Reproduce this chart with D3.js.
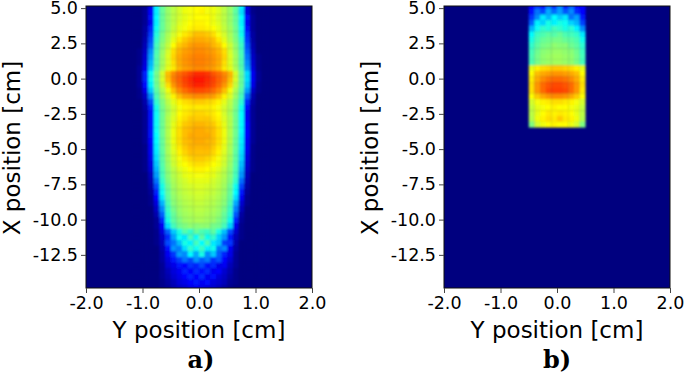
<!DOCTYPE html>
<html>
<head>
<meta charset="utf-8">
<script src="https://cdn.jsdelivr.net/npm/d3@7"></script>
<style>
html, body { margin: 0; background: #fff; }
text { font-family: "DejaVu Sans", sans-serif; fill: #000; }
</style>
</head>
<body>
<div id="chart"></div>
<script>
var yTicks = [-2, -1, 0, 1, 2];
var xTicks = [5, 2.5, 0, -2.5, -5, -7.5, -10, -12.5];

// bin centres in cm, shared by both panels where they overlap
var rowsA = [5.15, 4.75, 4.35, 3.95, 3.55, 3.15, 2.75, 2.35, 1.95, 1.55, 1.15, 0.75,
    0.35, -0.05, -0.45, -0.85, -1.25, -1.65, -2.05, -2.45, -2.85, -3.25, -3.65, -4.05,
    -4.45, -4.85, -5.25, -5.65, -6.05, -6.45, -6.85, -7.25, -7.65, -8.05, -8.45, -8.85,
    -9.25, -9.65, -10.05, -10.45, -10.85, -11.25, -11.65, -12.05, -12.45, -12.85, -13.25,
    -13.65, -14.05, -14.45, -14.85];
var colsA = [-1.15, -1.05, -0.95, -0.85, -0.75, -0.65, -0.55, -0.45, -0.35, -0.25, -0.15, -0.05,
    0.05, 0.15, 0.25, 0.35, 0.45, 0.55, 0.65, 0.75, 0.85, 0.95, 1.05, 1.15];

// as position on the colour scale (0-100)
var doseA = [
[0,0,1,9,34,47,53,57,60,62,64,65,65,64,63,60,57,53,47,34,9,1,0,0],
[0,0,2,11,34,47,53,57,60,63,64,65,66,64,63,61,57,53,46,32,8,1,0,0],
[0,0,2,12,35,47,53,57,60,62,64,65,65,65,63,60,57,53,47,35,12,2,0,0],
[0,0,2,10,34,47,53,57,61,63,65,66,66,65,63,61,57,53,47,34,10,2,0,0],
[0,0,3,14,37,47,53,58,62,64,66,67,67,66,65,62,58,54,48,36,12,2,0,0],
[0,0,3,16,39,49,55,60,64,67,69,71,71,70,68,64,60,55,49,37,15,3,0,0],
[0,0,4,18,41,50,56,62,67,70,72,73,73,72,71,67,62,56,50,40,16,3,0,0],
[0,0,5,20,43,52,58,65,70,72,74,75,75,74,72,70,65,59,52,42,18,4,0,0],
[0,1,6,24,44,53,60,68,72,74,75,76,76,75,74,72,68,60,53,43,20,5,0,0],
[0,1,7,26,45,54,61,69,73,75,76,77,77,76,75,73,69,61,54,44,22,6,1,0],
[0,1,8,28,45,54,61,68,73,75,76,77,77,76,75,73,68,61,54,44,24,7,1,0],
[0,2,9,30,46,55,62,67,72,74,75,76,76,75,74,72,67,62,55,45,26,8,1,0],
[0,2,14,36,49,60,71,76,79,81,83,85,85,84,81,79,76,72,60,47,32,10,2,0],
[0,2,14,36,49,60,71,77,80,83,85,87,87,85,83,80,77,71,60,47,32,10,2,0],
[0,2,12,34,48,58,68,75,79,82,84,86,86,84,82,79,75,69,58,47,30,9,1,0],
[0,1,9,30,46,55,63,71,76,79,81,82,82,81,79,76,71,64,55,45,26,6,1,0],
[0,1,6,24,44,53,60,66,71,74,75,76,76,75,74,71,66,61,53,43,20,4,0,0],
[0,0,4,18,41,50,57,62,66,68,69,70,70,69,68,66,62,57,50,40,15,3,0,0],
[0,0,3,14,38,49,55,60,64,66,67,67,67,67,66,64,60,56,49,37,12,2,0,0],
[0,0,2,12,36,48,55,60,65,67,68,69,69,68,67,65,60,55,48,35,10,2,0,0],
[0,0,2,12,36,48,56,61,66,68,70,70,70,70,68,66,61,56,48,35,10,2,0,0],
[0,0,2,12,36,48,56,62,67,70,71,72,72,71,70,67,62,56,48,35,11,2,0,0],
[0,0,2,12,36,48,56,63,68,71,72,73,73,72,71,68,63,56,48,35,11,2,0,0],
[0,0,2,12,35,48,56,63,68,71,73,73,73,73,71,68,63,56,48,34,11,2,0,0],
[0,0,2,11,35,47,56,63,68,71,72,73,73,72,71,68,63,56,47,34,10,2,0,0],
[0,0,1,10,34,47,55,62,67,70,72,72,72,72,70,67,62,55,47,33,10,1,0,0],
[0,0,1,10,33,46,55,61,66,69,71,71,71,71,69,66,61,55,46,32,9,1,0,0],
[0,0,1,9,32,46,54,60,64,67,69,70,70,69,67,64,60,54,46,31,8,1,0,0],
[0,0,1,8,30,45,53,59,63,65,67,68,68,67,65,63,59,53,45,29,7,1,0,0],
[0,0,1,7,28,44,52,57,61,63,65,66,66,65,63,61,57,52,44,27,6,1,0,0],
[0,0,0,5,26,43,51,56,59,62,63,64,64,63,62,59,56,51,43,25,5,0,0,0],
[0,0,0,4,22,41,50,55,58,60,62,62,62,62,60,58,55,50,41,21,4,0,0,0],
[0,0,0,3,18,38,48,54,57,59,60,61,61,60,59,57,54,48,37,17,3,0,0,0],
[0,0,0,2,14,36,47,53,56,58,59,60,60,59,58,56,53,47,35,13,2,0,0,0],
[0,0,0,1,11,33,46,52,55,57,58,59,59,58,57,55,52,46,32,10,1,0,0,0],
[0,0,0,1,8,28,44,51,54,56,57,58,58,57,56,54,51,44,27,7,1,0,0,0],
[0,0,0,0,6,24,42,49,53,55,56,57,57,56,55,53,49,42,23,5,0,0,0,0],
[0,0,0,0,4,20,40,47,52,54,55,56,56,55,54,52,47,40,19,3,0,0,0,0],
[0,0,0,0,2,15,38,46,50,53,54,55,55,54,53,50,46,37,14,2,0,0,0,0],
[0,0,0,0,2,10,32,43,48,50,52,51,52,52,49,48,43,31,9,1,0,0,0,0],
[0,0,0,0,1,8,20,30,38,45,41,47,44,42,46,38,29,18,7,1,0,0,0,0],
[0,0,0,0,1,6,15,26,36,33,44,36,46,37,41,31,25,13,5,1,0,0,0,0],
[0,0,0,0,1,5,18,22,29,38,34,43,35,44,33,30,17,16,4,0,0,0,0,0],
[0,0,0,0,0,4,12,25,23,32,41,36,42,34,37,22,24,10,3,0,0,0,0,0],
[0,0,0,0,0,3,10,16,26,24,35,27,38,24,30,20,14,9,2,0,0,0,0,0],
[0,0,0,0,0,3,8,13,17,22,18,25,20,23,16,19,11,7,2,0,0,0,0,0],
[0,0,0,0,0,2,7,9,13,11,16,14,18,12,15,9,10,5,2,0,0,0,0,0],
[0,0,0,0,0,2,5,8,10,14,11,15,12,15,10,11,7,4,1,0,0,0,0,0],
[0,0,0,0,0,2,4,7,9,11,14,11,15,10,12,8,6,3,1,0,0,0,0,0],
[0,0,0,0,0,1,3,5,8,9,11,13,10,12,8,7,5,2,1,0,0,0,0,0],
[0,0,0,0,0,1,2,4,6,7,9,10,9,8,7,5,3,1,0,0,0,0,0,0]
];

var rowsB = [5.15, 4.75, 4.35, 3.95, 3.55, 3.15, 2.75, 2.35, 1.95, 1.55, 1.15, 0.75,
    0.35, -0.05, -0.45, -0.85, -1.25, -1.65, -2.05, -2.45, -2.85, -3.25];
var colsB = [-0.45, -0.35, -0.25, -0.15, -0.05, 0.05, 0.15, 0.25, 0.35, 0.45];
var doseB = [
[11,16,12,22,15,24,13,20,12,11],
[12,22,18,27,21,26,19,24,15,11],
[16,24,33,28,35,30,33,22,26,13],
[20,34,31,38,34,38,36,31,28,17],
[28,36,41,39,43,41,38,40,34,24],
[35,42,44,46,45,47,44,43,41,33],
[38,44,47,48,49,49,47,46,44,37],
[41,46,49,50,52,51,51,48,46,40],
[43,48,51,52,53,53,52,51,48,42],
[44,49,52,53,54,54,53,52,49,43],
[44,49,52,53,54,54,53,52,49,43],
[62,66,68,69,70,70,69,68,66,62],
[65,71,73,74,75,75,74,73,71,65],
[67,73,76,78,79,79,78,76,73,67],
[68,75,79,81,82,82,81,79,75,68],
[68,75,79,82,83,83,82,79,75,67],
[65,70,73,75,76,76,75,73,70,65],
[60,64,66,67,68,68,67,66,64,60],
[58,62,64,65,66,65,65,64,62,58],
[57,62,65,67,66,67,66,65,62,57],
[56,63,66,68,67,70,67,66,63,56],
[50,60,63,65,66,65,65,63,60,50]
];

var jetStops = [0, 11, 35, 50, 65, 89, 100];
var jetColors = ['#00007f', '#0000ff', '#00ffff', '#7fff7f', '#ffff00', '#ff0000', '#7f0000'];

var width = 685,
    height = 377,
    plotTop = 6,
    plotBottom = 288,
    plotWidth = 226;

var color = d3.scaleLinear().domain(jetStops).range(jetColors);
var xPos = d3.scaleLinear().domain([5.15, -14.85]).range([plotTop, plotBottom]);

var svg = d3.select('#chart').append('svg')
    .attr('width', width)
    .attr('height', height)
    .style('display', 'block');

var blur = svg.append('defs').append('filter')
    .attr('id', 'soft')
    .attr('x', '-5%').attr('y', '-5%')
    .attr('width', '110%').attr('height', '110%');
blur.append('feGaussianBlur').attr('stdDeviation', 1.1);

function panel(name, left, rows, cols, dose, tag, tagX) {
    var yPos = d3.scaleLinear().domain([-2, 2]).range([left, left + plotWidth]);
    var rowH = Math.abs(xPos(0.4) - xPos(0));
    var colW = yPos(0.1) - yPos(0);

    svg.append('clipPath').attr('id', 'clip-' + name)
        .append('rect')
        .attr('x', left)
        .attr('y', plotTop)
        .attr('width', plotWidth)
        .attr('height', plotBottom - plotTop);

    var plot = svg.append('g').attr('clip-path', 'url(#clip-' + name + ')');
    plot.append('rect')
        .attr('x', left)
        .attr('y', plotTop)
        .attr('width', plotWidth)
        .attr('height', plotBottom - plotTop)
        .style('fill', color(0));

    var cells = [];
    dose.forEach(function(row, i) {
        row.forEach(function(v, j) {
            cells.push({ x: rows[i], y: cols[j], v: v });
        });
    });

    plot.append('g')
        .attr('filter', 'url(#soft)')
        .selectAll('rect').data(cells)
        .enter().append('rect')
            .attr('x', function(d) { return yPos(d.y) - colW / 2; })
            .attr('y', function(d) { return xPos(d.x) - rowH / 2; })
            .attr('width', colW + 0.3)
            .attr('height', rowH + 0.3)
            .style('fill', function(d) { return color(d.v); });

    svg.append('rect')
        .attr('x', left)
        .attr('y', plotTop)
        .attr('width', plotWidth)
        .attr('height', plotBottom - plotTop)
        .style('fill', 'none')
        .style('stroke', '#111')
        .style('stroke-width', 1);

    var bottomAxis = d3.axisBottom(yPos)
        .tickValues(yTicks)
        .tickFormat(function(d) { return d.toFixed(1); })
        .tickSize(5)
        .tickPadding(4);
    var leftAxis = d3.axisLeft(xPos)
        .tickValues(xTicks)
        .tickFormat(function(d) { return d.toFixed(1); })
        .tickSize(5)
        .tickPadding(3);

    var gx = svg.append('g').attr('transform', 'translate(0,' + plotBottom + ')').call(bottomAxis);
    var gy = svg.append('g').attr('transform', 'translate(' + left + ',0)').call(leftAxis);
    [gx, gy].forEach(function(g) {
        g.select('.domain').remove();
        g.selectAll('line').style('stroke', '#444');
        g.selectAll('text').style('font-family', '"DejaVu Sans", sans-serif').style('font-size', '17.5px');
    });

    svg.append('text')
        .attr('x', left + plotWidth / 2)
        .attr('y', 338)
        .attr('text-anchor', 'middle')
        .style('font-size', '23px')
        .text('Y position [cm]');

    svg.append('text')
        .attr('transform', 'translate(' + (left - 66) + ',148) rotate(-90)')
        .attr('text-anchor', 'middle')
        .style('font-size', '23px')
        .text('X position [cm]');

    svg.append('text')
        .attr('x', tagX)
        .attr('y', 368)
        .attr('text-anchor', 'middle')
        .style('font-family', '"DejaVu Serif", serif')
        .style('font-weight', 'bold')
        .style('font-size', '24px')
        .text(tag);
}

panel('a', 86, rowsA, colsA, doseA, 'a)', 201);
panel('b', 444, rowsB, colsB, doseB, 'b)', 557);
</script>
</body>
</html>
